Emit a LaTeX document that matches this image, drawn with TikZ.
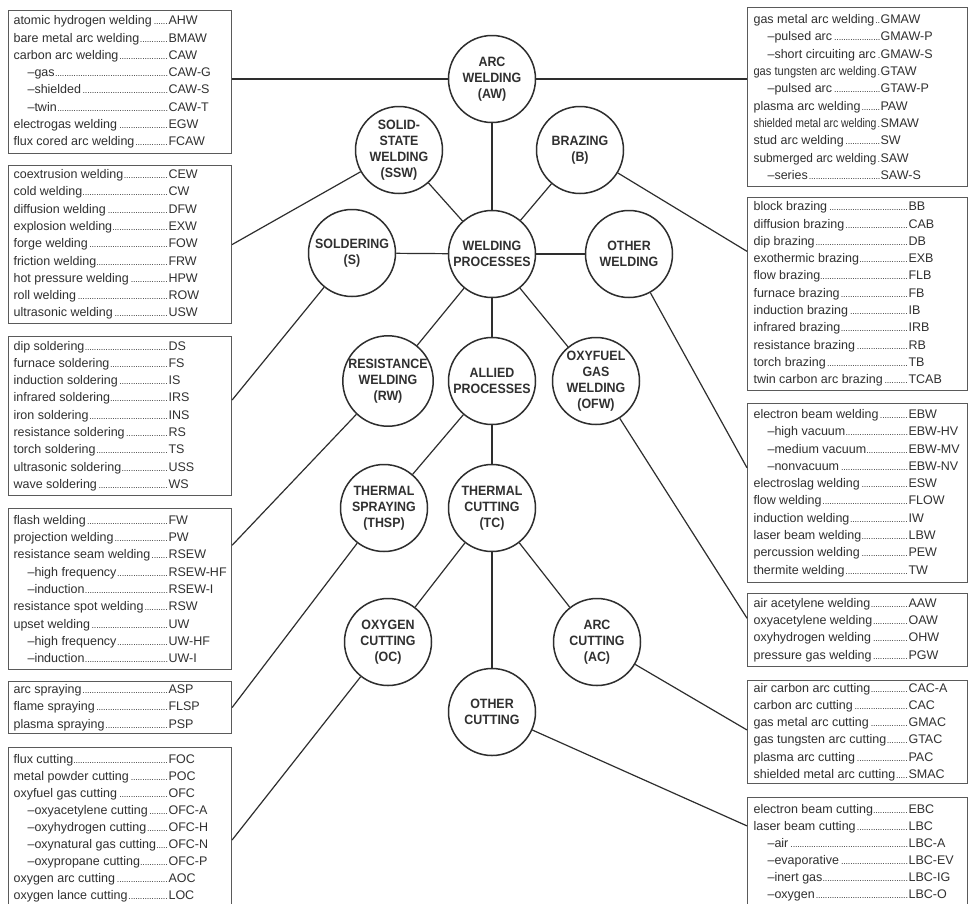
\documentclass[tikz,border=0pt]{standalone}
\usepackage{fontspec}
\usepackage{graphicx}
\setmainfont{Liberation Sans}
\newfontfamily\circfont{Liberation Sans}[FakeStretch=0.92]
\usetikzlibrary{calc}
\definecolor{linec}{HTML}{2E2E2E}
\definecolor{boxc}{HTML}{5A5A5A}
\definecolor{txtc}{HTML}{303030}
\newlength\itmw
\newlength\colw
\newlength\roww
\newcommand\dotlead{\leaders\hbox to 2.3pt{\hss\fontsize{9}{9}\selectfont.\hss}\hfill}
\newcommand\fitname[1]{\sbox0{#1}\ifdim\wd0>\itmw\resizebox{\itmw}{\height}{#1}\else#1\fi}
\newcommand\itm[3][0pt]{\hbox to \roww{\hspace*{#1}\setlength\itmw{\dimexpr\colw-#1-4pt\relax}\hbox to \dimexpr\colw-#1\relax{\fitname{#2}\dotlead}#3\hss}}
\newcommand\lst[4][17.3pt]{\vbox{\fontsize{12.5}{#1}\selectfont\setlength\colw{#2}\setlength\roww{#3}#4}}
\tikzset{
  listbox/.style={draw=boxc, line width=1.1pt, inner sep=0pt, anchor=north west, text=txtc},
  circ/.style={circle, draw=linec, line width=1.5pt, fill=white, minimum size=87pt, inner sep=0pt,
    align=center, text=txtc, font=\circfont\bfseries\fontsize{13.5}{16}\selectfont},
  conn/.style={draw=linec, line width=1.2pt}
}
\begin{document}
\begin{tikzpicture}[x=1pt,y=-1pt]
\useasboundingbox (0,0) rectangle (969,903);
\clip (0,0) rectangle (969,903);
\fill[white] (0,0) rectangle (969,903);

% ---------- left boxes ----------
\node[listbox, minimum width=223pt, minimum height=143pt] (l1) at (8,10) {\lst{155pt}{213pt}{%
\itm{atomic hydrogen welding}{AHW}
\itm{bare metal arc welding}{BMAW}
\itm{carbon arc welding}{CAW}
\itm[14pt]{–gas}{CAW-G}
\itm[14pt]{–shielded}{CAW-S}
\itm[14pt]{–twin}{CAW-T}
\itm{electrogas welding}{EGW}
\itm{flux cored arc welding}{FCAW}}};

\node[listbox, minimum width=223pt, minimum height=158pt] (l2) at (8,165) {\lst{155pt}{213pt}{%
\itm{coextrusion welding}{CEW}
\itm{cold welding}{CW}
\itm{diffusion welding}{DFW}
\itm{explosion welding}{EXW}
\itm{forge welding}{FOW}
\itm{friction welding}{FRW}
\itm{hot pressure welding}{HPW}
\itm{roll welding}{ROW}
\itm{ultrasonic welding}{USW}}};

\node[listbox, minimum width=223pt, minimum height=159pt] (l3) at (8,336) {\lst{155pt}{213pt}{%
\itm{dip soldering}{DS}
\itm{furnace soldering}{FS}
\itm{induction soldering}{IS}
\itm{infrared soldering}{IRS}
\itm{iron soldering}{INS}
\itm{resistance soldering}{RS}
\itm{torch soldering}{TS}
\itm{ultrasonic soldering}{USS}
\itm{wave soldering}{WS}}};

\node[listbox, minimum width=223pt, minimum height=161pt] (l4) at (8,508) {\lst{155pt}{213pt}{%
\itm{flash welding}{FW}
\itm{projection welding}{PW}
\itm{resistance seam welding}{RSEW}
\itm[14pt]{–high frequency}{RSEW-HF}
\itm[14pt]{–induction}{RSEW-I}
\itm{resistance spot welding}{RSW}
\itm{upset welding}{UW}
\itm[14pt]{–high frequency}{UW-HF}
\itm[14pt]{–induction}{UW-I}}};

\node[listbox, minimum width=223pt, minimum height=52pt] (l5) at (8,681) {\lst{155pt}{213pt}{%
\itm{arc spraying}{ASP}
\itm{flame spraying}{FLSP}
\itm{plasma spraying}{PSP}}};

\node[listbox, minimum width=223pt, minimum height=162pt] (l6) at (8,747) {\lst[16.95pt]{155pt}{213pt}{%
\itm{flux cutting}{FOC}
\itm{metal powder cutting}{POC}
\itm{oxyfuel gas cutting}{OFC}
\itm[14pt]{–oxyacetylene cutting}{OFC-A}
\itm[14pt]{–oxyhydrogen cutting}{OFC-H}
\itm[14pt]{–oxynatural gas cutting}{OFC-N}
\itm[14pt]{–oxypropane cutting}{OFC-P}
\itm{oxygen arc cutting}{AOC}
\itm{oxygen lance cutting}{LOC}}};

% ---------- right boxes ----------
\node[listbox, minimum width=220pt, minimum height=179pt] (r1) at (747,7) {\lst{127pt}{208pt}{%
\itm{gas metal arc welding}{GMAW}
\itm[14pt]{–pulsed arc}{GMAW-P}
\itm[14pt]{–short circuiting arc}{GMAW-S}
\itm{gas tungsten arc welding}{GTAW}
\itm[14pt]{–pulsed arc}{GTAW-P}
\itm{plasma arc welding}{PAW}
\itm{shielded metal arc welding}{SMAW}
\itm{stud arc welding}{SW}
\itm{submerged arc welding}{SAW}
\itm[14pt]{–series}{SAW-S}}};

\node[listbox, minimum width=220pt, minimum height=193pt] (r2) at (747,197) {\lst{155pt}{208pt}{%
\itm{block brazing}{BB}
\itm{diffusion brazing}{CAB}
\itm{dip brazing}{DB}
\itm{exothermic brazing}{EXB}
\itm{flow brazing}{FLB}
\itm{furnace brazing}{FB}
\itm{induction brazing}{IB}
\itm{infrared brazing}{IRB}
\itm{resistance brazing}{RB}
\itm{torch brazing}{TB}
\itm{twin carbon arc brazing}{TCAB}}};

\node[listbox, minimum width=220pt, minimum height=179pt] (r3) at (747,403) {\lst{155pt}{208pt}{%
\itm{electron beam welding}{EBW}
\itm[14pt]{–high vacuum}{EBW-HV}
\itm[14pt]{–medium vacuum}{EBW-MV}
\itm[14pt]{–nonvacuum}{EBW-NV}
\itm{electroslag welding}{ESW}
\itm{flow welding}{FLOW}
\itm{induction welding}{IW}
\itm{laser beam welding}{LBW}
\itm{percussion welding}{PEW}
\itm{thermite welding}{TW}}};

\node[listbox, minimum width=220pt, minimum height=73pt] (r4) at (747,593) {\lst{155pt}{208pt}{%
\itm{air acetylene welding}{AAW}
\itm{oxyacetylene welding}{OAW}
\itm{oxyhydrogen welding}{OHW}
\itm{pressure gas welding}{PGW}}};

\node[listbox, minimum width=220pt, minimum height=103pt] (r5) at (747,680) {\lst{155pt}{208pt}{%
\itm{air carbon arc cutting}{CAC-A}
\itm{carbon arc cutting}{CAC}
\itm{gas metal arc cutting}{GMAC}
\itm{gas tungsten arc cutting}{GTAC}
\itm{plasma arc cutting}{PAC}
\itm{shielded metal arc cutting}{SMAC}}};

\node[listbox, minimum width=220pt, minimum height=110pt] (r6) at (747,797) {\lst[17.1pt]{155pt}{208pt}{%
\itm{electron beam cutting}{EBC}
\itm{laser beam cutting}{LBC}
\itm[14pt]{–air}{LBC-A}
\itm[14pt]{–evaporative}{LBC-EV}
\itm[14pt]{–inert gas}{LBC-IG}
\itm[14pt]{–oxygen}{LBC-O}}};

% ---------- circles ----------
\node[circ] (aw)   at (492,79)  {ARC\\WELDING\\(AW)};
\node[circ] (ssw)  at (399,150) {SOLID-\\STATE\\WELDING\\(SSW)};
\node[circ] (b)    at (580,150) {BRAZING\\(B)};
\node[circ] (s)    at (352,253) {SOLDERING\\(S)};
\node[circ] (wp)   at (492,254) {WELDING\\PROCESSES};
\node[circ] (ow)   at (629,254) {OTHER\\WELDING};
\node[circ] (rw)   at (388,381) {RESISTANCE\\WELDING\\(RW)};
\node[circ] (ap)   at (492,381) {ALLIED\\PROCESSES};
\node[circ] (ofw)  at (596,381) {OXYFUEL\\GAS\\WELDING\\(OFW)};
\node[circ] (thsp) at (384,508) {THERMAL\\SPRAYING\\(THSP)};
\node[circ] (tc)   at (492,508) {THERMAL\\CUTTING\\(TC)};
\node[circ] (oc)   at (388,642) {OXYGEN\\CUTTING\\(OC)};
\node[circ] (ac)   at (597,642) {ARC\\CUTTING\\(AC)};
\node[circ] (ocut) at (492,712) {OTHER\\CUTTING};

% ---------- box anchor points ----------
\coordinate (l3p) at ($(l3.north east)!0.40!(l3.south east)$);
\coordinate (l4p) at ($(l4.north east)!0.23!(l4.south east)$);
\coordinate (l6p) at ($(l6.north east)!0.57!(l6.south east)$);
\coordinate (r2p) at ($(r2.north west)!0.28!(r2.south west)$);
\coordinate (r3p) at ($(r3.north west)!0.36!(r3.south west)$);
\coordinate (r4p) at ($(r4.north west)!0.34!(r4.south west)$);
\coordinate (r5p) at ($(r5.north west)!0.48!(r5.south west)$);
\coordinate (r6p) at ($(r6.north west)!0.26!(r6.south west)$);

% ---------- connectors ----------
\draw[conn] (aw.west) -- (aw.west -| l1.east);
\draw[conn] (aw.east) -- (aw.east -| r1.west);
\draw[conn] (ssw) -- (l2.east);
\draw[conn] (s) -- (l3p);
\draw[conn] (rw) -- (l4p);
\draw[conn] (thsp) -- (l5.east);
\draw[conn] (oc) -- (l6p);
\draw[conn] (b) -- (r2p);
\draw[conn] (ow) -- (r3p);
\draw[conn] (ofw) -- (r4p);
\draw[conn] (ac) -- (r5p);
\draw[conn] (ocut) -- (r6p);

\draw[conn] (wp) -- (aw);
\draw[conn] (wp) -- (ssw);
\draw[conn] (wp) -- (b);
\draw[conn] (wp) -- (s);
\draw[conn] (wp) -- (ow);
\draw[conn] (wp) -- (rw);
\draw[conn] (wp) -- (ap);
\draw[conn] (wp) -- (ofw);
\draw[conn] (ap) -- (thsp);
\draw[conn] (ap) -- (tc);
\draw[conn] (tc) -- (oc);
\draw[conn] (tc) -- (ac);
\draw[conn] (tc) -- (ocut);
\end{tikzpicture}
\end{document}
